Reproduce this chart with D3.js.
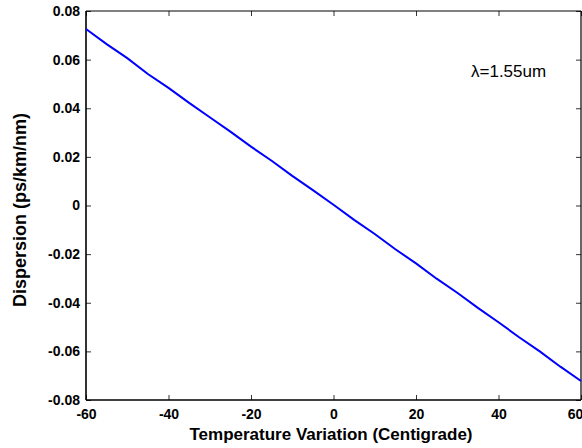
<!DOCTYPE html>
<html>
<head>
<meta charset="utf-8">
<script src="https://cdn.jsdelivr.net/npm/d3@7"></script>
<style>
  body { margin: 0; background: #fff; }
  text { font-family: "Liberation Sans", Arial, sans-serif; }
</style>
</head>
<body>
<svg id="chart" width="582" height="448"></svg>
<script>
// Dispersion vs temperature variation

const temps = [-60, -55, -50, -45, -40, -35, -30, -25, -20, -15, -10, -5, 0,
               5, 10, 15, 20, 25, 30, 35, 40, 45, 50, 55, 60];
const dispersion = [0.0726, 0.0664, 0.0606, 0.0541, 0.0484, 0.0422, 0.0363, 0.0304, 0.0242,
                    0.0184, 0.0122, 0.0063, 0.0003, -0.0059, -0.0117, -0.0180, -0.0238,
                    -0.0301, -0.0359, -0.0421, -0.0480, -0.0542, -0.0600, -0.0663, -0.0722];
const xTicks = [-60, -40, -20, 0, 20, 40, 60];
const yTicks = [-0.08, -0.06, -0.04, -0.02, 0, 0.02, 0.04, 0.06, 0.08];

let svg = d3.select("#chart");
const margin = { top: 11, right: 1, bottom: 48, left: 86 };
const w = 582 - margin.left - margin.right;
const h = 448 - margin.top - margin.bottom;
let g = svg.append("g").attr("transform", "translate(" + margin.left + "," + margin.top + ")");

let x = d3.scaleLinear().domain([-60, 60]).range([0, w]);
let y = d3.scaleLinear().domain([-0.08, 0.08]).range([h, 0]);

// plain hyphen instead of d3's unicode minus
const fmtX = d => String(d);
const fmtY = d => d === 0 ? "0" : d.toFixed(2);

// Inward ticks on all four sides
let xAxis = g.append("g").attr("transform", "translate(0," + h + ")")
  .call(d3.axisBottom(x).tickValues(xTicks).tickSizeInner(-5).tickSizeOuter(0).tickPadding(9).tickFormat(fmtX))
  .call(a => a.select(".domain").remove());
g.append("g")
  .call(d3.axisTop(x).tickValues(xTicks).tickSizeInner(-5).tickSizeOuter(0).tickFormat(""))
  .call(a => a.select(".domain").remove());
g.append("g")
  .call(d3.axisLeft(y).tickValues(yTicks).tickSizeInner(-5).tickSizeOuter(0).tickPadding(6).tickFormat(fmtY))
  .call(a => a.select(".domain").remove());
g.append("g").attr("transform", "translate(" + w + ",0)")
  .call(d3.axisRight(y).tickValues(yTicks).tickSizeInner(-5).tickSizeOuter(0).tickFormat(""))
  .call(a => a.select(".domain").remove());

g.selectAll(".tick line").attr("stroke", "#333");
g.selectAll(".tick text")
  .style("font-size", "14px")
  .style("font-weight", "bold")
  .attr("fill", "#000");
// last label sits on the right edge, pull it in a bit
xAxis.selectAll(".tick text").filter(d => d === 60).attr("dx", -6);

// Box
g.append("line").attr("x1", 0).attr("x2", w).attr("y1", 0).attr("y2", 0)
  .attr("stroke", "#000").attr("stroke-width", 1);
g.append("line").attr("x1", w).attr("x2", w).attr("y1", 0).attr("y2", h)
  .attr("stroke", "#000").attr("stroke-width", 1.2);
g.append("line").attr("x1", 0).attr("x2", w).attr("y1", h).attr("y2", h)
  .attr("stroke", "#000").attr("stroke-width", 1.6);
g.append("line").attr("x1", 0).attr("x2", 0).attr("y1", 0).attr("y2", h)
  .attr("stroke", "#000").attr("stroke-width", 1.6);

// Data line
let line = d3.line().x((d, i) => x(temps[i])).y(d => y(d));
g.append("path").datum(dispersion)
  .attr("fill", "none")
  .attr("stroke", "#0000ff")
  .attr("stroke-width", 2)
  .attr("d", line);

// Annotation
svg.append("text")
  .attr("x", 471).attr("y", 77)
  .style("font-size", "17px")
  .text("λ=1.55um");

// Axis titles
svg.append("text")
  .attr("x", 331).attr("y", 440)
  .attr("text-anchor", "middle")
  .style("font-size", "17px").style("font-weight", "bold")
  .text("Temperature Variation (Centigrade)");
svg.append("text")
  .attr("transform", "translate(26,210) rotate(-90)")
  .attr("text-anchor", "middle")
  .style("font-size", "18px").style("font-weight", "bold")
  .text("Dispersion (ps/km/nm)");
</script>
</body>
</html>
